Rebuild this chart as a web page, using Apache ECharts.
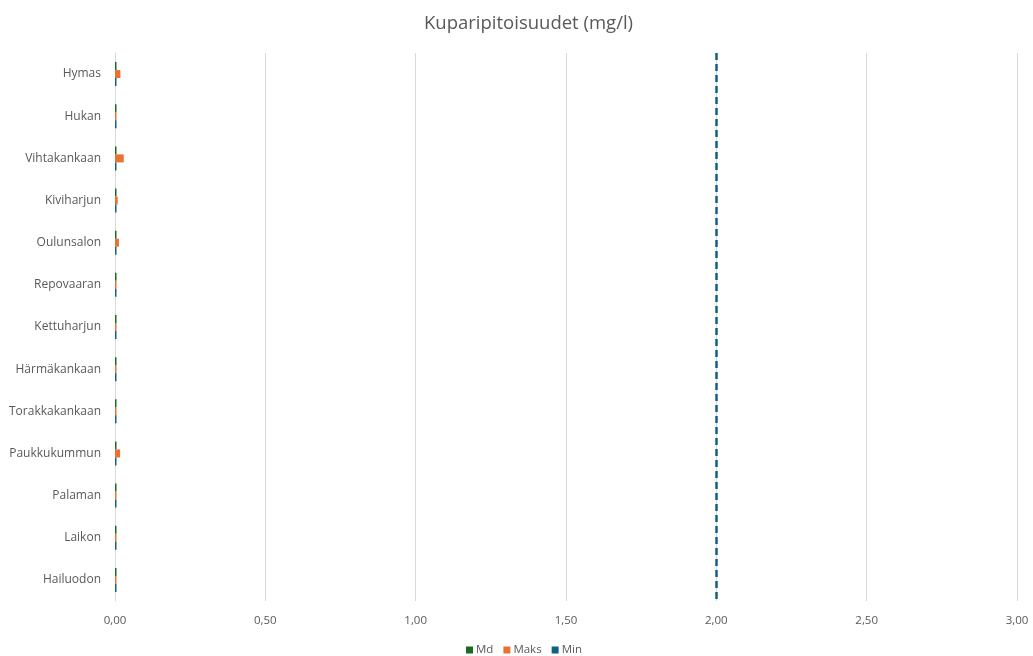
<!DOCTYPE html>
<html>
<head>
<meta charset="utf-8">
<script src="https://cdn.jsdelivr.net/npm/echarts@6/dist/echarts.min.js"></script>
<style>
  html, body { margin: 0; padding: 0; background: #ffffff; }
  #chart { width: 1033px; height: 656px; }
</style>
</head>
<body>
<div id="chart"></div>
<script>
// Sampling sites, listed top to bottom
const categories = ['Hymas', 'Hukan', 'Vihtakankaan', 'Kiviharjun', 'Oulunsalon', 'Repovaaran',
  'Kettuharjun', 'Härmäkankaan', 'Torakkakankaan', 'Paukkukummun', 'Palaman', 'Laikon', 'Hailuodon'];

// Copper concentrations (mg/l)
const mdValues   = [0.005, 0.005, 0.005, 0.005, 0.005, 0.005, 0.005, 0.005, 0.005, 0.005, 0.005, 0.005, 0.005];
const maksValues = [0.018, 0.005, 0.029, 0.009, 0.013, 0.005, 0.005, 0.005, 0.005, 0.017, 0.005, 0.005, 0.005];
const minValues  = [0.005, 0.005, 0.005, 0.005, 0.005, 0.005, 0.005, 0.005, 0.005, 0.005, 0.005, 0.005, 0.005];

// Limit value shown as a dashed line
const limitValue = 2.0;

const textColor = '#595959';
const fmt = v => v.toFixed(2).replace('.', ',');

const chart = echarts.init(document.getElementById('chart'));
chart.setOption({
  animation: false,
  title: {
    text: 'Kuparipitoisuudet (mg/l)',
    left: 419,
    top: 9,
    textStyle: { fontFamily: 'Open Sans', fontSize: 18.5, fontWeight: 'normal', color: textColor }
  },
  legend: {
    bottom: 0,
    padding: 0,
    left: 466,
    itemWidth: 7,
    itemHeight: 7,
    itemGap: 10,
    icon: 'rect',
    textStyle: { fontFamily: 'Open Sans', fontSize: 11.5, color: textColor, padding: [0, 0, 0, -2] },
    data: ['Md', 'Maks', 'Min']
  },
  grid: { left: 115, right: 16, top: 53, bottom: 55 },
  xAxis: {
    type: 'value',
    min: 0,
    max: 3,
    interval: 0.5,
    axisLine: { show: false },
    axisTick: { show: false },
    axisLabel: { formatter: fmt, fontFamily: 'Open Sans', fontSize: 11.5, color: textColor, margin: 14 },
    splitLine: { lineStyle: { color: '#d9d9d9', width: 1 } }
  },
  yAxis: {
    type: 'category',
    inverse: true,
    data: categories,
    axisLine: { lineStyle: { color: '#d9d9d9', width: 1 } },
    axisTick: { show: false },
    axisLabel: { fontFamily: 'Open Sans', fontSize: 12, color: textColor, margin: 14 }
  },
  series: [
    {
      name: 'Md', type: 'bar', data: mdValues, barWidth: 8, barGap: '0%',
      itemStyle: { color: '#196B24' }
    },
    {
      name: 'Maks', type: 'bar', data: maksValues, barWidth: 8, barGap: '0%',
      itemStyle: { color: '#E97132' }
    },
    {
      name: 'Min', type: 'bar', data: minValues, barWidth: 8, barGap: '0%',
      itemStyle: { color: '#156082' },
      markLine: {
        silent: true,
        symbol: 'none',
        label: { show: false },
        lineStyle: { color: '#156082', width: 2.5, type: [7, 4] },
        data: [{ xAxis: limitValue }]
      }
    }
  ]
});
</script>
</body>
</html>
